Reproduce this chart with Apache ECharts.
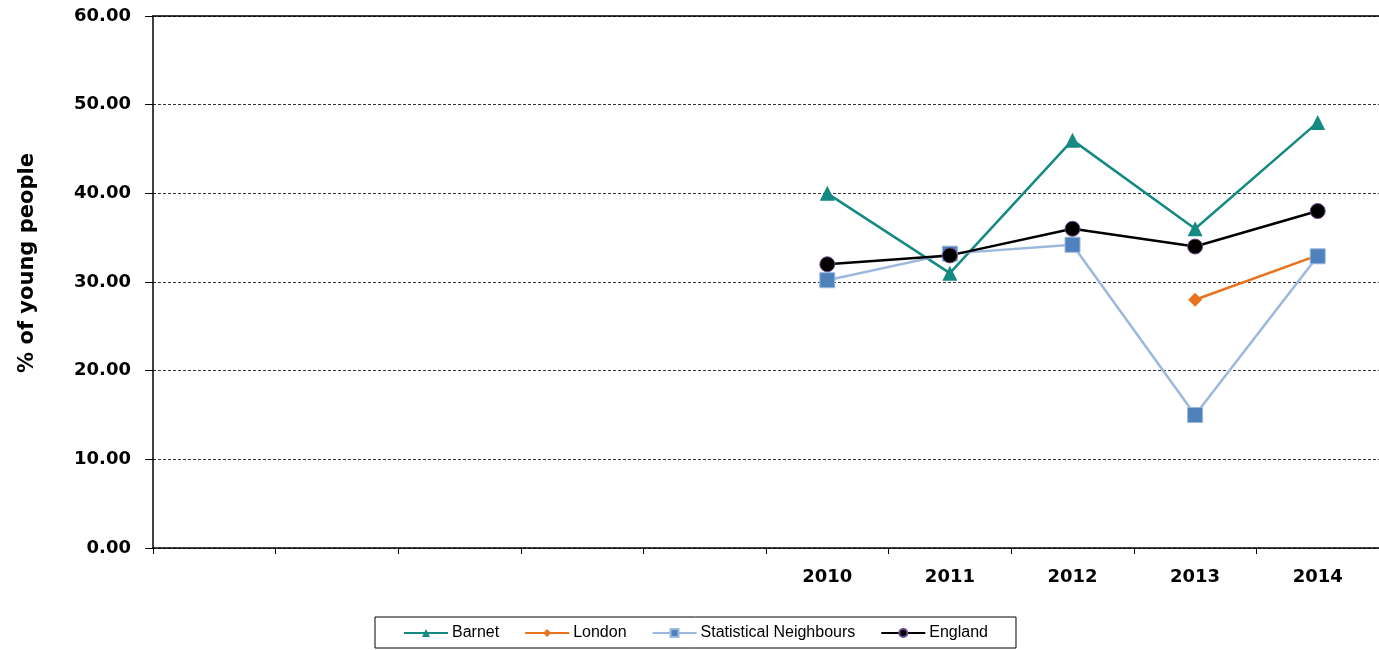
<!DOCTYPE html>
<html>
<head>
<meta charset="utf-8">
<script src="https://cdn.jsdelivr.net/npm/echarts@6/dist/echarts.min.js"></script>
<style>html,body{margin:0;padding:0;background:#fff}#c{width:1379px;height:650px}</style>
</head>
<body>
<div id="c"></div>
<script>
var categories = ['', '', '', '', '', '2010', '2011', '2012', '2013', '2014'];
var barnet = [null, null, null, null, null, 40, 31, 46, 36, 48];
var london = [null, null, null, null, null, null, null, null, 28, 33];
var statNeighbours = [null, null, null, null, null, 30.2, 33.2, 34.2, 15, 32.9];
var england = [null, null, null, null, null, 32, 33, 36, 34, 38];
var yTicks = [0, 10, 20, 30, 40, 50, 60];

var chart = echarts.init(document.getElementById('c'));
var axisFont = {fontFamily: 'DejaVu Sans', fontWeight: 'bold', fontSize: 18, color: '#000'};
chart.setOption({
  animation: false,
  grid: {left: 153, right: 0, top: 16, bottom: 102},
  legend: {
    top: 617, left: 375,
    width: 660,
    itemGap: 25,
    padding: [8, 28, 7, 28],
    borderColor: '#000', borderWidth: 1,
    itemWidth: 44, itemHeight: 10,
    textStyle: {fontFamily: 'Liberation Sans', fontSize: 16, color: '#000', padding: [0, 0, 0, -1]},
    data: ['Barnet', 'London', 'Statistical Neighbours', 'England']
  },
  xAxis: [{
    type: 'category', data: categories, boundaryGap: true,
    axisLine: {lineStyle: {color: '#000', width: 1.5}},
    axisTick: {show: true, length: 6, lineStyle: {color: '#000'}},
    axisLabel: Object.assign({margin: 20}, axisFont)
  }, {
    type: 'category', data: categories, position: 'top',
    axisLine: {show: true, lineStyle: {color: '#000', width: 1.5}},
    axisTick: {show: false}, axisLabel: {show: false}
  }],
  yAxis: {
    type: 'value', min: yTicks[0], max: yTicks[yTicks.length - 1], interval: 10,
    name: '% of young people', nameLocation: 'middle', nameGap: 115, nameRotate: 90,
    nameTextStyle: {fontFamily: 'DejaVu Sans', fontWeight: 'bold', fontSize: 21, color: '#000', padding: [0, 0, 0, 38]},
    axisLine: {show: true, lineStyle: {color: '#000', width: 1.5}},
    axisTick: {show: true, inside: false, length: 8, lineStyle: {color: '#000'}},
    axisLabel: Object.assign({margin: 22, formatter: function (v) { return v.toFixed(2); }}, axisFont),
    splitLine: {show: true, lineStyle: {color: '#333', type: [3, 2], width: 1}}
  },
  series: [{
    name: 'Barnet', type: 'line', data: barnet,
    symbol: 'triangle', symbolSize: 15,
    lineStyle: {color: '#148a82', width: 2.5},
    itemStyle: {color: '#148a82'}
  }, {
    name: 'London', type: 'line', data: london,
    symbol: 'diamond', symbolSize: 14,
    lineStyle: {color: '#e8731c', width: 2.5},
    itemStyle: {color: '#e8731c'}
  }, {
    name: 'Statistical Neighbours', type: 'line', data: statNeighbours,
    symbol: 'rect', symbolSize: 15,
    lineStyle: {color: '#9bb8dd', width: 2.5},
    itemStyle: {color: '#4f81bd', borderColor: '#9bb8dd', borderWidth: 1}
  }, {
    name: 'England', type: 'line', data: england,
    symbol: 'circle', symbolSize: 15,
    lineStyle: {color: '#000', width: 2.5},
    itemStyle: {color: '#000', borderColor: '#6a4a8a', borderWidth: 1}
  }]
});
</script>
</body>
</html>
